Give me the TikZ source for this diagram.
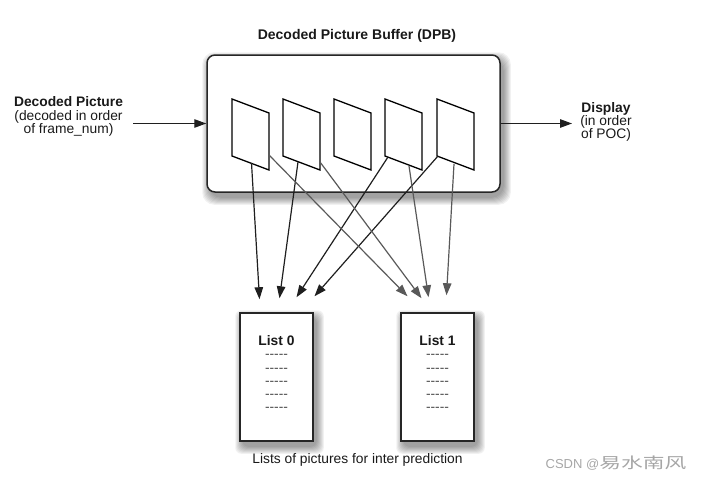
\documentclass[tikz,border=0pt]{standalone}
\usepackage{fontspec}
\setmainfont{Liberation Sans}
\newfontfamily\cjkfont[FakeStretch=1.45]{Noto Sans CJK SC}
\usetikzlibrary{calc,arrows.meta,backgrounds}
\newcommand{\tikzFrameNode}[2]{
  \draw[frame] (#2,99) -- ++(37,14) -- ++(0,57) -- ++(-37,-14) -- cycle;
  \coordinate (#1) at (#2,99);
}
\newcommand{\tikzSoftShadow}[2]{
  \foreach \e in {0,1,...,7} {
    \fill[black, opacity=0.055, rounded corners=#2]
      ($(#1.north west)+(3-\e,5-\e)$) rectangle ($(#1.south east)+(3+\e,5+\e)$);
  }
}
\newcommand{\listdash}{\textcolor{black!70}{-{}-{}-{}-{}-}}

\begin{document}
\begin{tikzpicture}[x=1pt, y=-1pt, >={Triangle[length=12pt,width=8.5pt]},
  every node/.style={font=\fontsize{13.8}{13.3}\selectfont, text=black!90},
  frame/.style={line width=1.3pt, fill=white, line join=miter},
  box/.style={draw=black!85, line width=1.5pt, fill=white, rectangle},
  to0/.style={->, line width=1.2pt, draw=black!88},
  to1/.style={->, line width=1.2pt, draw=black!65}]
  \useasboundingbox (0,0) rectangle (707,482);

  \node [box, rounded corners=8pt, minimum width=293pt, minimum height=137pt] (dpb) at (353.5,123.5) {};
  \node [font=\fontsize{14}{13.3}\selectfont\bfseries] (dpbt) at (357,36) {Decoded Picture Buffer (DPB)};

  \node [align=center] (inp) at (68.5,116.7) {\textbf{Decoded Picture}\\(decoded in order\\of frame\_num)};
  \coordinate (inps) at (133,123.5);
  \draw [to0] (inps) -- (dpb.west);

  \node [align=center] (disp) at (606,122) {\textbf{Display}\\(in order\\of POC)};
  \coordinate (dispe) at (572,123.5);
  \draw [to0] (dpb.east) -- (dispe);

  \foreach \n/\x in {1/232,2/283,3/334,4/385,5/437} {
    \tikzFrameNode{f\n}{\x}
  }

  \node [box, minimum width=73pt, minimum height=128pt] (l0) at (276.5,377) {};
  \node [box, minimum width=73pt, minimum height=128pt] (l1) at (437.5,377) {};
  \node [align=center, inner sep=0pt, anchor=north] (l0t) at ([yshift=-23pt]l0.north)
    {\textbf{List 0}\\\listdash\\\listdash\\\listdash\\\listdash\\\listdash};
  \node [align=center, inner sep=0pt, anchor=north] (l1t) at ([yshift=-23pt]l1.north)
    {\textbf{List 1}\\\listdash\\\listdash\\\listdash\\\listdash\\\listdash};

  \begin{scope}[on background layer]
    \tikzSoftShadow{dpb}{12pt}
    \tikzSoftShadow{l0}{6pt}
    \tikzSoftShadow{l1}{6pt}
  \end{scope}

  % references into list 0
  \draw [to0] ($(f1)+(19.5,64)$) -- ($(l0.north)+(-17,-13)$);
  \draw [to0] ($(f2)+(15,63)$) -- ($(l0.north)+(3,-14)$);
  \draw [to0] ($(f4)+(3,58)$) -- ($(l0.north)+(20,-15)$);
  \draw [to0] ($(f5)+(1,57)$) -- ($(l0.north)+(38,-16)$);
  % references into list 1
  \draw [to1] ($(f1)+(37,56)$) -- ($(l1.north)+(-30,-16)$);
  \draw [to1] ($(f2)+(37,63)$) -- ($(l1.north)+(-16,-14)$);
  \draw [to1] ($(f4)+(24,67)$) -- ($(l1.north)+(-9,-15)$);
  \draw [to1] ($(f5)+(17,65)$) -- ($(l1.north)+(9,-17)$);

  \node (cap) at (357.5,460) {Lists of pictures for inter prediction};
  \node [text=black!35, font=\fontsize{13}{13}\selectfont] (wm) at (616,463) {CSDN @{\cjkfont\fontsize{15}{15}\selectfont 易水南风}};
\end{tikzpicture}
\end{document}
